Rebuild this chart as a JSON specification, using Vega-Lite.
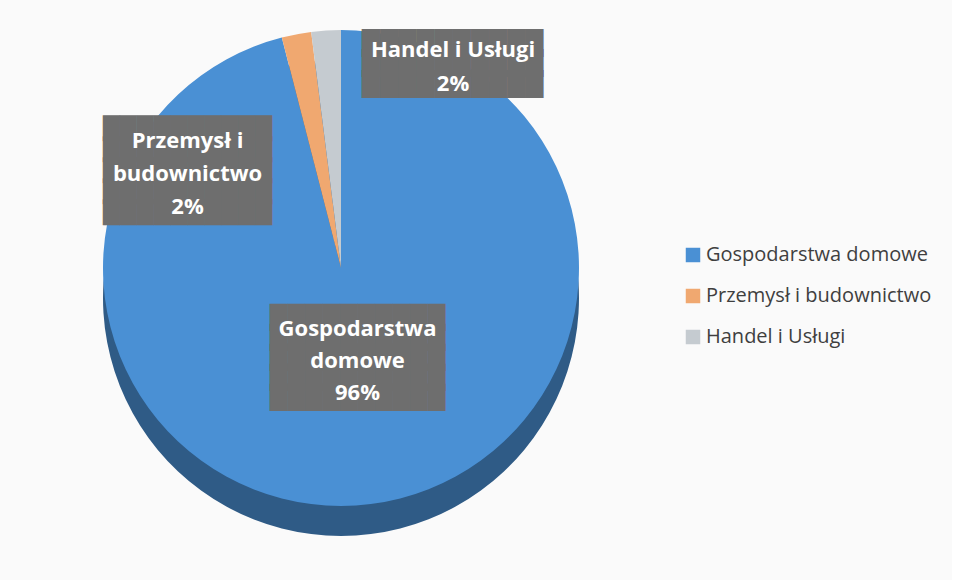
{
  "$schema": "https://vega.github.io/schema/vega-lite/v6.json",
  "width": 682,
  "height": 536,
  "padding": {"left": 0, "top": 0, "right": 20, "bottom": 44},
  "autosize": {"type": "pad"},
  "background": "#fafafa",
  "view": {"stroke": null},
  "data": {
    "values": [
      {"kategoria": "Gospodarstwa domowe", "udzial": 96, "kolejnosc": 1},
      {"kategoria": "Przemysł i budownictwo", "udzial": 2, "kolejnosc": 2},
      {"kategoria": "Handel i Usługi", "udzial": 2, "kolejnosc": 3}
    ]
  },
  "encoding": {
    "theta": {"field": "udzial", "type": "quantitative", "stack": true},
    "order": {"field": "kolejnosc", "type": "quantitative"},
    "detail": {"field": "kategoria", "type": "nominal"}
  },
  "layer": [
    {
      "mark": {"type": "arc", "outerRadius": 238, "yOffset": 30, "color": "#2f5b86"}
    },
    {
      "mark": {"type": "arc", "outerRadius": 238},
      "encoding": {
        "color": {
          "field": "kategoria",
          "type": "nominal",
          "scale": {
            "domain": ["Gospodarstwa domowe", "Przemysł i budownictwo", "Handel i Usługi"],
            "range": ["#4a90d4", "#f0a870", "#c5cbd0"]
          },
          "legend": {
            "title": null,
            "orient": "none",
            "legendX": 683,
            "legendY": 245,
            "symbolType": "square",
            "symbolSize": 210,
            "symbolStrokeWidth": 0,
            "labelFont": "Open Sans",
            "labelFontSize": 20,
            "labelColor": "#3f3f3f",
            "labelOffset": 3,
            "labelLimit": 0,
            "rowPadding": 21
          }
        }
      }
    },
    {
      "mark": {"type": "text", "radius": 80, "dx": 6.5, "dy": -29.5, "font": "DejaVu Sans", "fontSize": 22.8, "lineHeight": 20.1, "color": "#6e6e6e", "align": "center", "baseline": "middle"},
      "encoding": {
        "text": {"condition": {"test": "datum.kategoria === 'Gospodarstwa domowe'", "value": ["██████████", "██████████", "██████████", "██████████", "██████████"]}, "value": ""}
      }
    },
    {
      "mark": {"type": "text", "radius": 120, "dx": -131, "dy": -20.7, "font": "DejaVu Sans", "fontSize": 22, "lineHeight": 20.8, "color": "#6e6e6e", "align": "center", "baseline": "middle"},
      "encoding": {
        "text": {"condition": {"test": "datum.kategoria === 'Przemysł i budownictwo'", "value": ["██████████", "██████████", "██████████", "██████████", "██████████"]}, "value": ""}
      }
    },
    {
      "mark": {"type": "text", "radius": 213, "dx": 124.9, "dy": -11.9, "font": "DejaVu Sans", "fontSize": 23.6, "lineHeight": 20.7, "color": "#6e6e6e", "align": "center", "baseline": "middle"},
      "encoding": {
        "text": {"condition": {"test": "datum.kategoria === 'Handel i Usługi'", "value": ["██████████", "██████████", "██████████"]}, "value": ""}
      }
    },
    {
      "mark": {"type": "text", "radius": 80, "dx": 6.5, "dy": -18.1, "font": "Open Sans", "fontWeight": "bold", "fontSize": 22, "lineHeight": 32, "color": "#ffffff", "align": "center", "baseline": "middle"},
      "encoding": {
        "text": {"condition": {"test": "datum.kategoria === 'Gospodarstwa domowe'", "value": ["Gospodarstwa", "domowe", "96%"]}, "value": ""}
      }
    },
    {
      "mark": {"type": "text", "radius": 120, "dx": -131, "dy": -8.8, "font": "Open Sans", "fontWeight": "bold", "fontSize": 22, "lineHeight": 33, "color": "#ffffff", "align": "center", "baseline": "middle"},
      "encoding": {
        "text": {"condition": {"test": "datum.kategoria === 'Przemysł i budownictwo'", "value": ["Przemysł i", "budownictwo", "2%"]}, "value": ""}
      }
    },
    {
      "mark": {"type": "text", "radius": 213, "dx": 125.4, "dy": -5.8, "font": "Open Sans", "fontWeight": "bold", "fontSize": 22, "lineHeight": 34, "color": "#ffffff", "align": "center", "baseline": "middle"},
      "encoding": {
        "text": {"condition": {"test": "datum.kategoria === 'Handel i Usługi'", "value": ["Handel i Usługi", "2%"]}, "value": ""}
      }
    }
  ]
}
